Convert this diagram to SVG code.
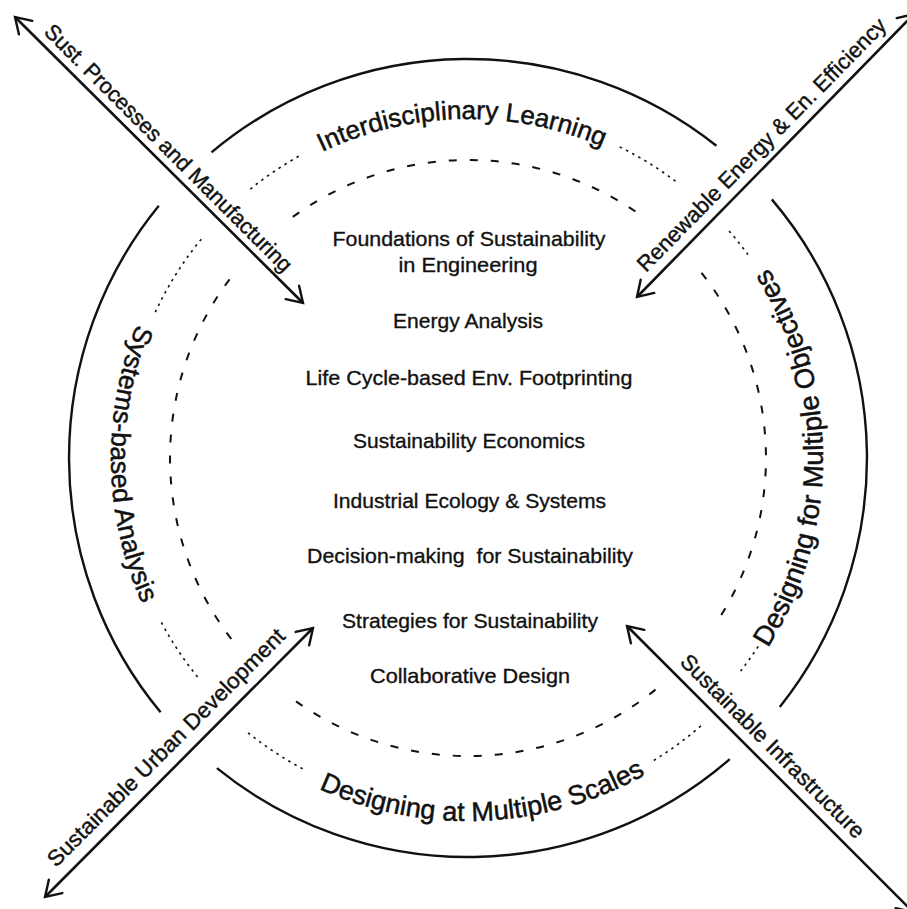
<svg xmlns="http://www.w3.org/2000/svg" width="907" height="909" viewBox="0 0 907 909">
<defs>
<style>
.ring{fill:none;stroke:#111;stroke-width:2.4}
.dash{fill:none;stroke:#111;stroke-width:2;stroke-dasharray:8 13}
.dot{fill:none;stroke:#111;stroke-width:1.6;stroke-dasharray:2.5 4.5}
.arrow{fill:none;stroke:#111;stroke-width:2.6;marker-start:url(#head);marker-end:url(#head)}
text{font-family:"Liberation Sans",Arial,sans-serif;fill:#111;stroke:#111}
.item{font-size:21px;text-anchor:middle;stroke-width:0.35}
.theme{font-size:26px;text-anchor:middle;stroke-width:0.5}
.lab{font-size:22px;stroke-width:0.4}
</style>
<marker id="head" markerUnits="userSpaceOnUse" markerWidth="40" markerHeight="40" viewBox="-20 -20 40 40" refX="0" refY="0" orient="auto-start-reverse" overflow="visible">
<path d="M-15,-9.5 L0,0 L-15,9.5" fill="none" stroke="#111" stroke-width="2.4" stroke-linecap="round"/>
</marker>
<path id="tp-top" d="M129,458 A339,339 0 0 1 807,458"/>
<path id="tp-right" d="M468,813 A355,355 0 0 0 468,103"/>
<path id="tp-bottom" d="M105,458 A363,363 0 0 0 831,458"/>
<path id="tp-left" d="M468,101 A357,357 0 0 0 468,815"/>
</defs>
<rect width="907" height="909" fill="#fff"/>

<g id="outer-ring">
<path class="ring" d="M211.5,152.4 A399,399 0 0 1 716.4,145.7"/>
<path class="ring" d="M771.8,199.4 A399,399 0 0 1 779.8,706.9"/>
<path class="ring" d="M729.8,759.1 A399,399 0 0 1 216.9,768.1"/>
<path class="ring" d="M160.6,712.3 A399,399 0 0 1 158.8,205.8"/>
</g>

<g id="inner-ring">
<path class="dash" d="M292.8,216.9 A298,298 0 0 1 638.9,213.9"/>
<path class="dash" d="M701.5,272.9 A298,298 0 0 1 717.9,620.3"/>
<path class="dash" d="M655.5,689.6 A298,298 0 0 1 292.8,699.1"/>
<path class="dash" d="M231.3,639.0 A298,298 0 0 1 231.6,276.6"/>
</g>

<g id="dotted-ring">
<path class="dot" d="M250.3,189.1 A346,346 0 0 1 300.3,155.4"/>
<path class="dot" d="M619.7,147.0 A346,346 0 0 1 676.2,181.7"/>
<path class="dot" d="M729.1,231.0 A346,346 0 0 1 747.9,254.6"/>
<path class="dot" d="M758.2,646.4 A346,346 0 0 1 740.6,671.0"/>
<path class="dot" d="M700.9,725.9 A355,355 0 0 1 650.8,762.3"/>
<path class="dot" d="M302.7,768.8 A352,352 0 0 1 246.5,731.5"/>
<path class="dot" d="M197.6,677.0 A348,348 0 0 1 160.8,621.4"/>
<path class="dot" d="M155.3,312.2 A345,345 0 0 1 203.7,236.2"/>
</g>

<g id="theme-interdisciplinary">
<text class="theme"><textPath href="#tp-top" startOffset="49.4%">Interdisciplinary Learning</textPath></text>
</g>
<g id="theme-objectives">
<text class="theme" style="font-size:27.5px"><textPath href="#tp-right" startOffset="50%">Designing for Multiple Objectives</textPath></text>
</g>
<g id="theme-scales">
<text class="theme" style="font-size:27px"><textPath href="#tp-bottom" startOffset="51.4%">Designing at Multiple Scales</textPath></text>
</g>
<g id="theme-systems">
<text class="theme" style="font-size:26.5px"><textPath href="#tp-left" startOffset="50.6%">Systems-based Analysis</textPath></text>
</g>

<g id="topics">
<g id="topic-foundations">
<text class="item" x="469" y="246" textLength="273" lengthAdjust="spacingAndGlyphs">Foundations of Sustainability</text>
<text class="item" x="468" y="272" textLength="139" lengthAdjust="spacingAndGlyphs">in Engineering</text>
</g>
<g id="topic-energy"><text class="item" x="468" y="328" textLength="150" lengthAdjust="spacingAndGlyphs">Energy Analysis</text></g>
<g id="topic-lifecycle"><text class="item" x="469" y="385" textLength="327" lengthAdjust="spacingAndGlyphs">Life Cycle-based Env. Footprinting</text></g>
<g id="topic-economics"><text class="item" x="469" y="448" textLength="232" lengthAdjust="spacingAndGlyphs">Sustainability Economics</text></g>
<g id="topic-ecology"><text class="item" x="469.5" y="508" textLength="273" lengthAdjust="spacingAndGlyphs">Industrial Ecology &amp; Systems</text></g>
<g id="topic-decision"><text class="item" x="470" y="563" textLength="326" lengthAdjust="spacingAndGlyphs" xml:space="preserve">Decision-making  for Sustainability</text></g>
<g id="topic-strategies"><text class="item" x="470" y="628" textLength="256" lengthAdjust="spacingAndGlyphs">Strategies for Sustainability</text></g>
<g id="topic-collab"><text class="item" x="470" y="683" textLength="200" lengthAdjust="spacingAndGlyphs">Collaborative Design</text></g>
</g>

<g id="connectors">
<path id="arrow-manufacturing" class="arrow" d="M15,17 L303,303"/>
<path id="arrow-renewable" class="arrow" d="M914,14 L637,297"/>
<path id="arrow-urban" class="arrow" d="M313,628 L45,897"/>
<path id="arrow-infrastructure" class="arrow" d="M627,626 L913,912"/>
</g>

<g id="connector-labels">
<text class="lab" transform="translate(43,33) rotate(45)" textLength="340" lengthAdjust="spacingAndGlyphs">Sust. Processes and Manufacturing</text>
<text class="lab" transform="translate(646,273) rotate(-45.5)" textLength="345" lengthAdjust="spacingAndGlyphs">Renewable Energy &amp; En. Efficiency</text>
<text class="lab" transform="translate(56,868) rotate(-45)" textLength="326" lengthAdjust="spacingAndGlyphs">Sustainable Urban Development</text>
<text class="lab" transform="translate(679,663) rotate(45)" textLength="250" lengthAdjust="spacingAndGlyphs">Sustainable Infrastructure</text>
</g>
</svg>
